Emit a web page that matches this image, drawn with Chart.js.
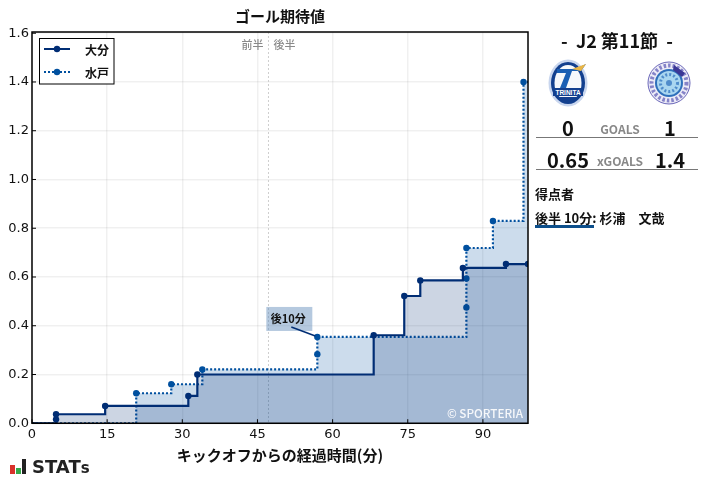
<!DOCTYPE html>
<html>
<head>
<meta charset="utf-8">
<script src="https://cdn.jsdelivr.net/npm/chart.js@4/dist/chart.umd.min.js"></script>
<style>
    html, body { margin: 0; padding: 0; background: #fff; }
    #wrap { position: relative; width: 707px; height: 479px; overflow: hidden; font-family: "Noto Sans CJK JP", sans-serif; color: #111; }
    #chart { position: absolute; left: 0; top: 0; }
    .t { position: absolute; white-space: nowrap; font-weight: 700; line-height: 1; }
    .c { transform: translateX(-50%); }
    .gray { color: #888; }
    .rule { position: absolute; left: 536px; width: 162px; height: 1px; background: #777; }
</style>
</head>
<body>
<div id="wrap">
    <canvas id="chart" width="707" height="479"></canvas>

    <div class="t c" style="left:617px;top:31px;font-size:18px;">-&nbsp; J2 第11節 &nbsp;-</div>

    <svg style="position:absolute;left:548px;top:59px" width="42" height="48" viewBox="0 0 42 48">
        <ellipse cx="20" cy="24" rx="19.5" ry="23.5" fill="#c9d6ee"/>
        <ellipse cx="20" cy="24" rx="17" ry="21" fill="#13408f"/>
        <ellipse cx="20" cy="24" rx="13.5" ry="18" fill="#f6f8fb"/>
        <path d="M9 10 H27 L38 5 L33 12 H24 L18 29 H12 L18 14 H9 Z" fill="#1a5fb4"/>
        <path d="M24 10 L38 5 L33 12 Z" fill="#e9b545"/>
        <rect x="5" y="29" width="30" height="8" fill="#13408f"/>
        <text x="20" y="35.5" font-size="6.5" font-weight="700" fill="#fff" text-anchor="middle" font-family="Liberation Sans">TRINITA</text>
        <path d="M9 38 H31 L24 43 H16 Z" fill="#13408f"/>
    </svg>

    <svg style="position:absolute;left:647px;top:61px" width="44" height="44" viewBox="0 0 44 44">
        <circle cx="22" cy="22" r="21" fill="#ecebf7" stroke="#6a67b8" stroke-width="1"/>
        <circle cx="22" cy="22" r="17.5" fill="none" stroke="#8583c8" stroke-width="4" stroke-dasharray="2.5 2"/>
        <circle cx="22" cy="22" r="14" fill="#2f6fbb"/>
        <circle cx="22" cy="22" r="12" fill="#a9d6f0"/>
        <circle cx="22" cy="22" r="8.5" fill="none" stroke="#4f8ccb" stroke-width="3" stroke-dasharray="2 2"/>
        <circle cx="22" cy="22" r="3" fill="#4f8ccb"/>
        <path d="M27 4 L38 12 L35 16 L26 9 Z" fill="#3b3796"/>
    </svg>

    <div class="t c" style="left:568px;top:118px;font-size:20px;">0</div>
    <div class="t c gray" style="left:620px;top:123px;font-size:12px;">GOALS</div>
    <div class="t c" style="left:670px;top:118px;font-size:20px;">1</div>
    <div class="rule" style="top:137px"></div>
    <div class="t c" style="left:568px;top:150px;font-size:20px;">0.65</div>
    <div class="t c gray" style="left:620px;top:155px;font-size:12px;">xGOALS</div>
    <div class="t c" style="left:670px;top:150px;font-size:20px;">1.4</div>
    <div class="rule" style="top:169px"></div>
    <div class="t" style="left:535px;top:187px;font-size:13px;">得点者</div>
    <div class="t" style="left:535px;top:211px;font-size:13px;">後半 10分: 杉浦　文哉</div>
    <div style="position:absolute;left:535px;top:225px;width:59px;height:3px;background:#0d4f8b"></div>

    <svg style="position:absolute;left:10px;top:459px" width="16" height="16">
        <rect x="0" y="6" width="5" height="9" fill="#d9312b"/>
        <rect x="6" y="9" width="5" height="6" fill="#35a84a"/>
        <rect x="12" y="0" width="4" height="15" fill="#222"/>
    </svg>
    <div class="t" style="left:32px;top:458px;font-size:18px;font-family:'DejaVu Sans';color:#222">STAT<span style="font-size:15px">s</span></div>
</div>

<script>
const oitaLabel = '大分';
const mitoLabel = '水戸';

// cumulative xG steps (minute, value)
const oitaMinutes = [0, 4.8, 4.8, 14.6, 31.2, 33, 68.2, 74.3, 77.5, 86, 94.6, 99];
const oitaValues = [0, 0.016, 0.037, 0.071, 0.112, 0.2, 0.361, 0.522, 0.586, 0.637, 0.653, 0.653];
const mitoMinutes = [0, 20.8, 27.8, 34, 56.95, 56.95, 86.7, 86.7, 86.7, 92, 98.1, 99];
const mitoValues = [0, 0.123, 0.16, 0.221, 0.283, 0.354, 0.475, 0.594, 0.719, 0.83, 1.4, 1.4];

const halfTimeMinute = 47.2;
const goalMinute = 56.95;
const goalValue = 0.354;

const oitaColor = '#002d74';
const mitoColor = '#00509f';

function toPoints(xs, ys) {
    return xs.map((x, i) => ({ x: x, y: ys[i] }));
}

// inward ticks, frame, half-time line, notes and the legend box
const extras = {
    id: 'extras',
    beforeDatasetsDraw(chart) {
        const { ctx, chartArea: a, scales: { x } } = chart;
        const hx = x.getPixelForValue(halfTimeMinute);
        ctx.save();
        ctx.strokeStyle = '#cfcfcf';
        ctx.lineWidth = 1;
        ctx.setLineDash([2, 2]);
        ctx.beginPath();
        ctx.moveTo(hx, a.top);
        ctx.lineTo(hx, a.bottom);
        ctx.stroke();
        ctx.restore();
    },
    afterDraw(chart) {
        const { ctx, chartArea: a, scales: { x, y } } = chart;
        const hx = x.getPixelForValue(halfTimeMinute);
        ctx.save();

        ctx.strokeStyle = '#000';
        ctx.lineWidth = 1;
        x.ticks.forEach(t => {
            const px = x.getPixelForValue(t.value);
            ctx.beginPath(); ctx.moveTo(px, a.bottom); ctx.lineTo(px, a.bottom - 4); ctx.stroke();
        });
        y.ticks.forEach(t => {
            const py = y.getPixelForValue(t.value);
            ctx.beginPath(); ctx.moveTo(a.left, py); ctx.lineTo(a.left + 4, py); ctx.stroke();
        });
        ctx.lineWidth = 1.5;
        ctx.strokeRect(a.left, a.top, a.right - a.left, a.bottom - a.top);

        // half labels
        ctx.font = '500 11px "Noto Sans CJK JP"';
        ctx.fillStyle = '#8a8a8a';
        ctx.textBaseline = 'middle';
        ctx.textAlign = 'right';
        ctx.fillText('前半', hx - 5, 45);
        ctx.textAlign = 'left';
        ctx.fillText('後半', hx + 5, 45);

        // goal note
        const gx = x.getPixelForValue(goalMinute);
        const gy = y.getPixelForValue(goalValue);
        ctx.fillStyle = 'rgba(90,135,185,0.45)';
        ctx.fillRect(gx - 51, gy - 30, 46, 24);
        ctx.fillStyle = '#111';
        ctx.font = '700 11px "Noto Sans CJK JP"';
        ctx.textAlign = 'center';
        ctx.fillText('後10分', gx - 29, gy - 18);
        ctx.strokeStyle = oitaColor;
        ctx.lineWidth = 1.5;
        ctx.beginPath();
        ctx.moveTo(gx - 26, gy - 10);
        ctx.lineTo(gx - 2, gy - 1);
        ctx.stroke();

        // copyright
        ctx.fillStyle = 'rgba(255,255,255,0.9)';
        ctx.font = '500 11.7px "Noto Sans CJK JP"';
        ctx.textAlign = 'right';
        ctx.fillText('© SPORTERIA', a.right - 5, a.bottom - 10);

        // legend
        ctx.fillStyle = '#fff';
        ctx.fillRect(39.5, 38.5, 74.5, 45.5);
        ctx.strokeStyle = '#000';
        ctx.lineWidth = 1;
        ctx.strokeRect(39.5, 38.5, 74.5, 45.5);
        chart.data.datasets.forEach((ds, i) => {
            const ly = 49 + i * 23;
            ctx.strokeStyle = ds.borderColor;
            ctx.fillStyle = ds.borderColor;
            ctx.lineWidth = 2;
            ctx.setLineDash(ds.borderDash || []);
            ctx.beginPath(); ctx.moveTo(44, ly); ctx.lineTo(70, ly); ctx.stroke();
            ctx.setLineDash([]);
            ctx.beginPath(); ctx.arc(57, ly, 3.2, 0, Math.PI * 2); ctx.fill();
            ctx.fillStyle = '#111';
            ctx.font = '700 12px "Noto Sans CJK JP"';
            ctx.textAlign = 'left';
            ctx.fillText(ds.label, 85, ly + 1);
        });
        ctx.restore();
    }
};

new Chart(document.getElementById('chart').getContext('2d'), {
    type: 'line',
    data: {
        datasets: [
            {
                label: oitaLabel,
                data: toPoints(oitaMinutes, oitaValues),
                stepped: true,
                borderColor: oitaColor,
                borderWidth: 2.2,
                backgroundColor: 'rgba(0,45,116,0.2)',
                fill: 'origin',
                pointRadius: oitaMinutes.map((m, i) => (i === 0 ? 0 : 3.2)),
                pointBackgroundColor: oitaColor,
                pointBorderWidth: 0
            },
            {
                label: mitoLabel,
                data: toPoints(mitoMinutes, mitoValues),
                stepped: true,
                borderColor: mitoColor,
                borderWidth: 2.2,
                borderDash: [2, 2],
                backgroundColor: 'rgba(0,80,159,0.2)',
                fill: 'origin',
                pointRadius: mitoMinutes.map((m, i) => (i === 0 || i === mitoMinutes.length - 1 ? 0 : 3.2)),
                pointBackgroundColor: mitoColor,
                pointBorderWidth: 0
            }
        ]
    },
    options: {
        responsive: false,
        animation: false,
        devicePixelRatio: 1,
        layout: { padding: { left: 0, right: 179, top: 0, bottom: 14 } },
        plugins: {
            legend: { display: false },
            tooltip: { enabled: false },
            title: {
                display: true,
                text: 'ゴール期待値',
                fullSize: false,
                color: '#111',
                font: { family: '"Noto Sans CJK JP"', size: 15, weight: '700', lineHeight: 1.2 },
                padding: { top: 7, bottom: 7 }
            }
        },
        scales: {
            x: {
                type: 'linear',
                min: 0,
                max: 99,
                afterFit(s) { s.height = 41.75; },
                grid: { color: 'rgba(0,0,0,0.06)', lineWidth: 1.5, drawTicks: false },
                border: { display: false },
                ticks: {
                    stepSize: 15,
                    includeBounds: false,
                    maxRotation: 0,
                    padding: 4,
                    color: '#111',
                    font: { family: '"DejaVu Sans"', size: 13 }
                },
                title: {
                    display: true,
                    text: 'キックオフからの経過時間(分)',
                    color: '#111',
                    font: { family: '"Noto Sans CJK JP"', size: 15, weight: '700' },
                    padding: { top: 3, bottom: 1 }
                }
            },
            y: {
                min: 0,
                max: 1.605,
                afterFit(s) { s.width = 32; },
                grid: { color: 'rgba(0,0,0,0.06)', lineWidth: 1.5, drawTicks: false },
                border: { display: false },
                ticks: {
                    stepSize: 0.2,
                    includeBounds: false,
                    padding: 3,
                    color: '#111',
                    font: { family: '"DejaVu Sans"', size: 13 },
                    callback: v => Number(v).toFixed(1)
                }
            }
        }
    },
    plugins: [extras]
});
</script>
</body>
</html>
